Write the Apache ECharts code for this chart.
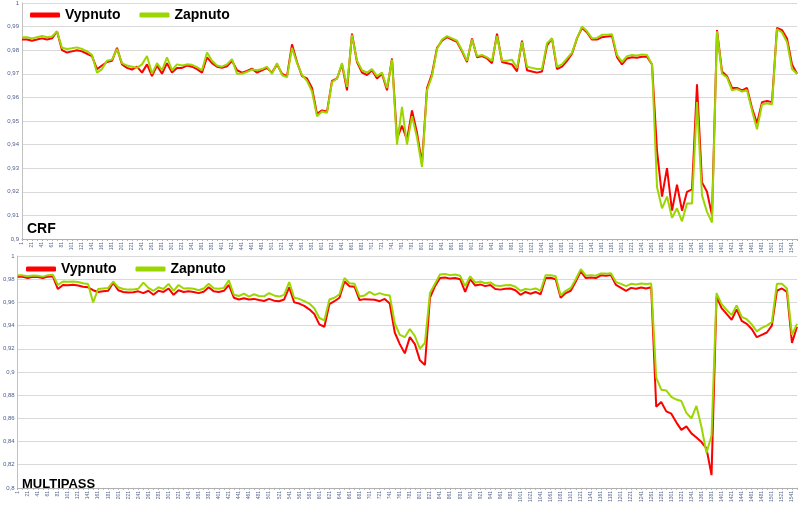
<!DOCTYPE html>
<html>
<head>
<meta charset="utf-8">
<script src="https://cdn.jsdelivr.net/npm/echarts@6/dist/echarts.min.js"></script>
<style>html,body{margin:0;padding:0;background:#fff}#c{width:800px;height:505px}</style>
</head>
<body>
<div id="c"></div>
<script>
const frames = Array.from({length: 156}, (_, i) => String(1 + 10 * i));

const crfVypnuto = [
.9845,.9845,.9840,.9845,.9850,.9845,.9850,.9880,.9800,.9790,
.9795,.9800,.9795,.9785,.9775,.9720,.9735,.9750,.9755,.9810,
.9740,.9725,.9718,.9730,.9705,.9740,.9690,.9735,.9700,.9745,
.9705,.9725,.9725,.9735,.9730,.9720,.9705,.9770,.9745,.9730,
.9725,.9732,.9755,.9715,.9705,.9712,.9722,.9705,.9715,.9725,
.9705,.9740,.9700,.9690,.9825,.9750,.9690,.9680,.9640,.9530,
.9545,.9540,.9670,.9680,.9740,.9630,.9870,.9750,.9705,.9695,
.9715,.9680,.9700,.9630,.9765,.9425,.9480,.9420,.9545,.9450,
.9320,.9640,.9700,.9810,.9840,.9855,.9845,.9835,.9795,.9750,
.9850,.9770,.9775,.9765,.9745,.9870,.9750,.9745,.9740,.9710,
.9840,.9715,.9710,.9705,.9710,.9820,.9850,.9720,.9730,.9755,
.9785,.9850,.9895,.9875,.9845,.9845,.9855,.9858,.9860,.9770,
.9740,.9765,.9770,.9768,.9772,.9772,.9740,.9375,.9180,.9300,
.9120,.9230,.9120,.9200,.9210,.9655,.9240,.9200,.9100,.9885,
.9710,.9690,.9640,.9640,.9630,.9640,.9555,.9490,.9580,.9585,
.9580,.9895,.9885,.9850,.9740,.9700
];
const crfZapnuto = [
.9855,.9855,.9850,.9855,.9860,.9855,.9858,.9880,.9810,.9805,
.9808,.9812,.9805,.9795,.9780,.9705,.9720,.9755,.9760,.9805,
.9745,.9735,.9730,.9725,.9740,.9775,.9700,.9745,.9715,.9770,
.9715,.9740,.9735,.9740,.9738,.9728,.9715,.9790,.9755,.9735,
.9730,.9740,.9762,.9700,.9700,.9708,.9718,.9715,.9720,.9730,
.9700,.9745,.9695,.9685,.9810,.9745,.9695,.9670,.9625,.9520,
.9540,.9535,.9665,.9680,.9745,.9645,.9865,.9755,.9715,.9705,
.9720,.9690,.9705,.9640,.9760,.9400,.9560,.9400,.9520,.9430,
.9305,.9630,.9690,.9805,.9845,.9860,.9850,.9840,.9800,.9755,
.9845,.9775,.9780,.9770,.9755,.9860,.9755,.9755,.9760,.9725,
.9835,.9730,.9725,.9720,.9720,.9830,.9850,.9730,.9740,.9765,
.9790,.9850,.9900,.9880,.9850,.9852,.9865,.9866,.9868,.9780,
.9750,.9775,.9780,.9778,.9782,.9780,.9740,.9220,.9130,.9180,
.9090,.9130,.9075,.9150,.9150,.9580,.9185,.9115,.9070,.9880,
.9700,.9685,.9630,.9635,.9625,.9630,.9545,.9465,.9570,.9575,
.9570,.9890,.9875,.9835,.9720,.9700
];
const mpVypnuto = [
.9820,.9820,.9810,.9820,.9818,.9810,.9822,.9825,.9715,.9750,
.9748,.9752,.9745,.9735,.9730,.9705,.9690,.9695,.9700,.9770,
.9705,.9690,.9685,.9688,.9695,.9680,.9700,.9665,.9700,.9690,
.9720,.9665,.9705,.9690,.9695,.9690,.9680,.9692,.9730,.9695,
.9690,.9700,.9750,.9640,.9625,.9635,.9625,.9630,.9620,.9612,
.9630,.9615,.9610,.9625,.9730,.9600,.9590,.9570,.9540,.9500,
.9410,.9390,.9585,.9610,.9640,.9780,.9740,.9735,.9620,.9628,
.9625,.9622,.9610,.9630,.9590,.9340,.9240,.9160,.9300,.9240,
.9100,.9060,.9640,.9740,.9810,.9815,.9805,.9810,.9800,.9690,
.9800,.9745,.9755,.9740,.9750,.9715,.9710,.9718,.9720,.9705,
.9665,.9690,.9675,.9690,.9670,.9810,.9812,.9800,.9640,.9680,
.9700,.9780,.9867,.9810,.9815,.9810,.9833,.9830,.9835,.9750,
.9725,.9700,.9725,.9718,.9728,.9720,.9730,.8700,.8740,.8660,
.8640,.8565,.8500,.8530,.8470,.8435,.8395,.8340,.8110,.9650,
.9550,.9500,.9450,.9540,.9440,.9415,.9370,.9300,.9320,.9340,
.9400,.9700,.9720,.9690,.9250,.9390
];
const mpZapnuto = [
.9835,.9833,.9825,.9832,.9830,.9822,.9835,.9838,.9750,.9780,
.9778,.9780,.9775,.9765,.9758,.9600,.9715,.9720,.9725,.9780,
.9730,.9715,.9710,.9712,.9718,.9770,.9725,.9700,.9730,.9715,
.9760,.9700,.9750,.9720,.9722,.9718,.9705,.9720,.9760,.9722,
.9718,.9725,.9790,.9665,.9655,.9675,.9650,.9670,.9655,.9652,
.9680,.9660,.9650,.9665,.9775,.9640,.9630,.9610,.9590,.9550,
.9465,.9445,.9625,.9640,.9670,.9810,.9765,.9760,.9650,.9660,
.9690,.9665,.9680,.9665,.9660,.9420,.9320,.9300,.9370,.9310,
.9200,.9250,.9680,.9760,.9840,.9845,.9835,.9840,.9830,.9740,
.9825,.9770,.9780,.9765,.9772,.9745,.9742,.9748,.9750,.9735,
.9700,.9715,.9710,.9720,.9700,.9833,.9835,.9825,.9660,.9700,
.9725,.9800,.9887,.9830,.9835,.9830,.9850,.9848,.9852,.9775,
.9760,.9740,.9760,.9755,.9762,.9758,.9762,.8950,.8847,.8840,
.8784,.8762,.8749,.8647,.8600,.8707,.8525,.8300,.8450,.9680,
.9585,.9535,.9490,.9575,.9475,.9455,.9410,.9350,.9380,.9400,
.9430,.9760,.9760,.9720,.9320,.9415
];
const seriesNames = ['Vypnuto', 'Zapnuto'];
const panelTitles = ['CRF', 'MULTIPASS'];

const RED = '#ff0000', GREEN = '#9bd600';
const fmt = v => String(Math.round(v * 100) / 100).replace('.', ',');
const axisLabelY = {fontSize: 6, color: '#4b5d8c', margin: 3, formatter: fmt, fontFamily: 'Liberation Sans'};
const axisLabelX = {interval: 1, rotate: 90, fontSize: 5, color: '#5a6a90', margin: 3, fontFamily: 'Liberation Sans'};
const legendBase = {
  itemWidth: 30, itemHeight: 5, icon: 'roundRect', itemGap: 19, orient: 'horizontal', padding: 0,
  textStyle: {fontSize: 14, fontWeight: 'bold', color: '#000', fontFamily: 'Liberation Sans'},
  data: seriesNames
};
function xAx(g) {
  return {type: 'category', gridIndex: g, data: frames, boundaryGap: false,
    axisLine: {lineStyle: {color: '#b0b0b0'}},
    axisTick: {show: true, interval: 0, length: 2, lineStyle: {color: '#b0b0b0'}},
    axisLabel: axisLabelX};
}
function yAx(g, min, step) {
  return {type: 'value', gridIndex: g, min: min, max: 1, interval: step,
    axisLine: {show: true, lineStyle: {color: '#c0c0c0'}},
    axisTick: {show: false},
    splitLine: {lineStyle: {color: '#d9d9d9', width: 1}},
    axisLabel: axisLabelY};
}
function ser(name, g, data, color) {
  return {name: name, type: 'line', xAxisIndex: g, yAxisIndex: g, data: data,
    showSymbol: false, symbol: 'none', lineStyle: {width: 2, color: color}, itemStyle: {color: color}};
}
const chart = echarts.init(document.getElementById('c'));
chart.setOption({
  animation: false,
  backgroundColor: '#fff',
  grid: [
    {left: 22, right: 3, top: 2, height: 237},
    {left: 17, right: 3, top: 256, height: 235}
  ],
  legend: [
    Object.assign({}, legendBase, {left: 30, top: 8}),
    Object.assign({}, legendBase, {left: 26, top: 262})
  ],
  xAxis: [xAx(0), xAx(1)],
  yAxis: [yAx(0, 0.9, 0.01), yAx(1, 0.8, 0.02)],
  graphic: [
    {type: 'text', left: 27, top: 222, style: {text: panelTitles[0], font: 'bold 14px "Liberation Sans"', fill: '#000'}},
    {type: 'text', left: 22, top: 478, style: {text: panelTitles[1], font: 'bold 13px "Liberation Sans"', fill: '#000'}}
  ],
  series: [
    ser(seriesNames[0], 0, crfVypnuto, RED),
    ser(seriesNames[1], 0, crfZapnuto, GREEN),
    ser(seriesNames[0], 1, mpVypnuto, RED),
    ser(seriesNames[1], 1, mpZapnuto, GREEN)
  ]
});
</script>
</body>
</html>
